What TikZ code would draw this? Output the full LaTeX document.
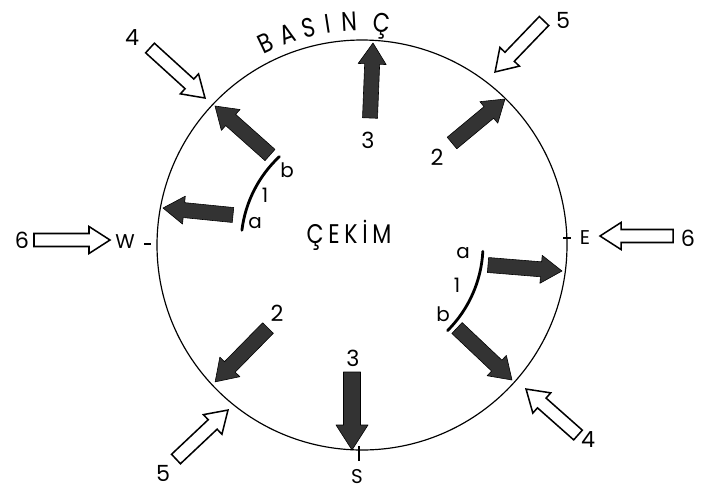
\documentclass[tikz,border=0pt]{standalone}
\usepackage{fontspec}
\setmainfont{Poppins}
\newfontfamily\narrowfont[FakeStretch=0.82]{Poppins}
\usetikzlibrary{calc}

% #1 style, #2 tail coordinate, #3 tip coordinate,
% #4 shaft half width, #5 head half width, #6 head length (picture units)
\newcommand{\blockarrow}[6]{%
  \pgfpointdiff{\pgfpointanchor{#2}{center}}{\pgfpointanchor{#3}{center}}%
  \pgfgetlastxy{\myDX}{\myDY}%
  \pgfmathsetmacro{\myAng}{atan2(\myDY,\myDX)}%
  \pgfmathsetmacro{\myLen}{veclen(\myDX,\myDY)/0.853582}%
  \pgfmathsetmacro{\myNeck}{\myLen-#6}%
  \begin{scope}[shift={(#2)}, rotate=\myAng]
    \path[#1] (0,-#4) -- (\myNeck,-#4) -- (\myNeck,-#5) -- (\myLen,0)
      -- (\myNeck,#5) -- (\myNeck,#4) -- (0,#4) -- cycle;
  \end{scope}%
}

\begin{document}
\begin{tikzpicture}[x=0.03cm,y=0.03cm,
  dark/.style={fill=black!80, draw=black, line width=0.5pt, line join=round},
  hollow/.style={fill=white, draw=black, line width=1.3pt, line join=miter},
  num/.style={font=\fontsize{19}{21}\selectfont, inner sep=0pt},
  dirlab/.style={font=\fontsize{17}{19}\selectfont, inner sep=0pt},
  small/.style={font=\fontsize{17}{19}\selectfont, inner sep=0pt},
  big/.style={font=\narrowfont\fontsize{23}{27}\selectfont, inner sep=0pt},
  cek/.style={font=\narrowfont\fontsize{23}{27}\selectfont, inner sep=0pt},
  tick/.style={line width=1pt},
  seg/.style={line width=2.4pt, line cap=round}]
\useasboundingbox (0,0) rectangle (711,-493);

% main circle
\coordinate (C) at (362,-245);
\draw[line width=1pt] (C) circle[radius=205];

% curved title
\foreach \ch/\ang in {B/115.5, A/109.5, S/103.8, I/98.8, N/93.3, Ç/85}{
  \node[big, anchor=base, rotate=\ang-90] at ($(C)+(\ang:214)$) {\ch};
}
\node[cek, anchor=base] (cekim) at (349,-243)
  {Ç\hspace{4pt}E\hspace{4pt}K\hspace{4pt}İ\hspace{4pt}M};

% direction marks
\node[dirlab] (W) at (125,-242) {W};
\node[dirlab] (E) at (585,-238) {E};
\node[dirlab] (S) at (357,-477) {S};
\coordinate (wt1) at (144,-244); \coordinate (wt2) at (151,-244);
\coordinate (et1) at (563,-238); \coordinate (et2) at (571,-238);
\coordinate (st1) at (359,-446); \coordinate (st2) at (359,-461);
\draw[tick] (wt1) -- (wt2);
\draw[tick] (et1) -- (et2);
\draw[tick] (st1) -- (st2);

% inner arcs 1
\draw[seg] ($(C)+(133:121)$) arc[start angle=133, end angle=173, radius=121];
\draw[seg] ($(C)+(-45:121)$) arc[start angle=-45, end angle=-3, radius=121];
\node[small] (la) at (255,-223) {a};
\node[small] (l1) at (265,-195) {1};
\node[small] (lb) at (287,-170) {b};
\node[small] (ra) at (463,-253) {a};
\node[small] (r1) at (457,-285) {1};
\node[small] (rb) at (443,-314) {b};

% dark (inner) arrows
\coordinate (d1t) at (370,-118); \coordinate (d1h) at (373,-43);
\coordinate (d2t) at (452,-143); \coordinate (d2h) at (505,-99);
\coordinate (d3t) at (270,-155); \coordinate (d3h) at (215,-106);
\coordinate (d4t) at (233,-215); \coordinate (d4h) at (163,-208);
\coordinate (d5t) at (488,-265); \coordinate (d5h) at (562,-271);
\coordinate (d6t) at (457,-328); \coordinate (d6h) at (512,-380);
\coordinate (d7t) at (268,-328); \coordinate (d7h) at (215,-382);
\coordinate (d8t) at (352,-372); \coordinate (d8h) at (352,-450);
\blockarrow{dark}{d1t}{d1h}{7.5}{14}{21}
\blockarrow{dark}{d2t}{d2h}{7.5}{14}{21}
\blockarrow{dark}{d3t}{d3h}{7.5}{14}{21}
\blockarrow{dark}{d4t}{d4h}{7.5}{14}{21}
\blockarrow{dark}{d5t}{d5h}{7.5}{14}{21}
\blockarrow{dark}{d6t}{d6h}{7.5}{14}{21}
\blockarrow{dark}{d7t}{d7h}{7.5}{14}{21}
\blockarrow{dark}{d8t}{d8h}{8.5}{16}{25}

% hollow (outer) arrows
\coordinate (o1t) at (34,-240);  \coordinate (o1h) at (110,-240);
\coordinate (o2t) at (673,-236); \coordinate (o2h) at (600,-236);
\coordinate (o3t) at (150,-48);  \coordinate (o3h) at (205,-98);
\coordinate (o4t) at (544,-21);  \coordinate (o4h) at (495,-72);
\coordinate (o5t) at (176,-459); \coordinate (o5h) at (228,-410);
\coordinate (o6t) at (578,-435); \coordinate (o6h) at (526,-389);
\blockarrow{hollow}{o1t}{o1h}{6.5}{13.5}{21}
\blockarrow{hollow}{o2t}{o2h}{6.5}{13.5}{21}
\blockarrow{hollow}{o3t}{o3h}{6.5}{13.5}{21}
\blockarrow{hollow}{o4t}{o4h}{6.5}{13.5}{21}
\blockarrow{hollow}{o5t}{o5h}{6.5}{13.5}{21}
\blockarrow{hollow}{o6t}{o6h}{6.5}{13.5}{21}

% numbers
\node[num] (n4a) at (132,-38) {4};
\node[num] (n5a) at (563,-20) {5};
\node[num] (n6a) at (22,-240) {6};
\node[num] (n6b) at (688,-238) {6};
\node[num] (n3a) at (368,-140) {3};
\node[num] (n2a) at (437,-157) {2};
\node[num] (n2b) at (277,-313) {2};
\node[num] (n3b) at (353,-358) {3};
\node[num] (n5b) at (163,-473) {5};
\node[num] (n4b) at (588,-440) {4};
\end{tikzpicture}
\end{document}
